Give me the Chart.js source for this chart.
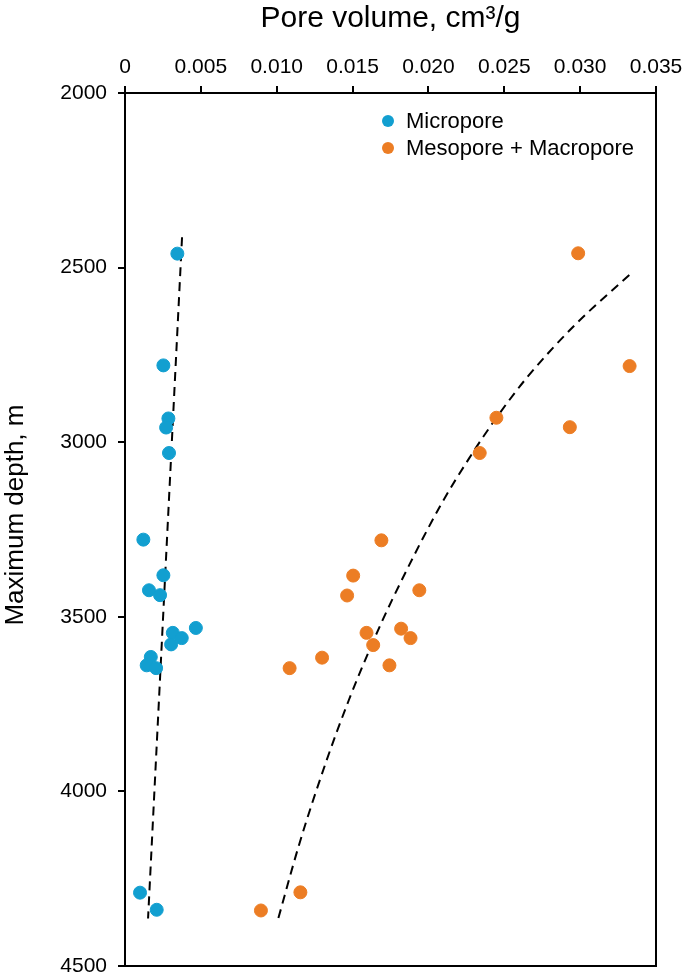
<!DOCTYPE html>
<html>
<head>
<meta charset="utf-8">
<script src="https://cdn.jsdelivr.net/npm/chart.js@4.4.1/dist/chart.umd.min.js"></script>
<style>
  html, body { margin: 0; padding: 0; background: #fff; }
  #wrap { width: 685px; height: 980px; }
</style>
</head>
<body>
<div id="wrap"><canvas id="myChart" width="685" height="980"></canvas></div>
<script>
// pore volume (cm3/g) vs maximum depth (m)
const microVolume = [0.00345, 0.00253, 0.00286, 0.00271, 0.0029, 0.00121, 0.00253, 0.00158, 0.00231,
  0.00467, 0.00315, 0.00374, 0.00304, 0.0017, 0.00143, 0.00205, 0.00099, 0.00209];
const microDepth = [2460, 2780, 2932, 2958, 3031, 3279, 3381, 3424, 3438,
  3532, 3546, 3561, 3579, 3615, 3639, 3647, 4290, 4339];

const mesoVolume = [0.02987, 0.03326, 0.02448, 0.02932, 0.02338, 0.0169, 0.01504, 0.0194, 0.01464,
  0.0182, 0.01592, 0.01882, 0.01636, 0.01299, 0.01743, 0.01085, 0.01156, 0.00896];
const mesoDepth = [2459, 2782, 2930, 2957, 3031, 3281, 3382, 3424, 3439,
  3534, 3546, 3561, 3581, 3617, 3639, 3647, 4289, 4341];

// trend lines
const microTrendVolume = [0.00376, 0.00152];
const microTrendDepth = [2413, 4364];
const mesoTrendVolume = [0.03324, 0.02964, 0.02653, 0.02448, 0.02267, 0.02081, 0.01759, 0.01629, 0.01475, 0.01329, 0.0115, 0.01005];
const mesoTrendDepth = [2521, 2665, 2813, 2930, 3047, 3180, 3453, 3577, 3739, 3911, 4149, 4372];

const xTicks = [0, 0.005, 0.010, 0.015, 0.020, 0.025, 0.030, 0.035];
const xTickLabels = ['0', '0.005', '0.010', '0.015', '0.020', '0.025', '0.030', '0.035'];

const blue = '#129fd0';
const orange = '#ec7d24';
const fontFamily = '"Liberation Sans", Arial, sans-serif';

function pairUp(xs, ys) {
  return xs.map((x, i) => ({ x: x, y: ys[i] }));
}

// frame round the plot
const framePlugin = {
  id: 'frame',
  afterDraw(chart) {
    const { ctx, chartArea } = chart;
    ctx.save();
    ctx.strokeStyle = '#000';
    ctx.lineWidth = 2;
    ctx.beginPath();
    ctx.moveTo(chartArea.left, chartArea.bottom);
    ctx.lineTo(chartArea.right, chartArea.bottom);
    ctx.lineTo(chartArea.right, chartArea.top);
    ctx.stroke();
    ctx.restore();
  }
};

// legend drawn inside the plot
const insideLegend = {
  id: 'insideLegend',
  afterDraw(chart) {
    const { ctx, chartArea } = chart;
    const items = chart.data.datasets.filter((d) => !d.isTrend);
    ctx.save();
    ctx.font = '22px ' + fontFamily;
    ctx.textBaseline = 'middle';
    items.forEach((d, i) => {
      const cx = chartArea.left + 263;
      const cy = chartArea.top + 28 + i * 27;
      ctx.fillStyle = d.backgroundColor;
      ctx.beginPath();
      ctx.arc(cx, cy, 6, 0, Math.PI * 2);
      ctx.fill();
      ctx.fillStyle = '#000';
      ctx.fillText(d.label, cx + 18, cy + 1);
    });
    ctx.restore();
  }
};

function initChart(target) {
  const data = {
    datasets: [
      {
        label: 'Micropore',
        data: pairUp(microVolume, microDepth),
        backgroundColor: blue,
        borderColor: blue,
        pointRadius: 6.5,
        pointHoverRadius: 6.5
      },
      {
        label: 'Mesopore + Macropore',
        data: pairUp(mesoVolume, mesoDepth),
        backgroundColor: orange,
        borderColor: orange,
        pointRadius: 6.5,
        pointHoverRadius: 6.5
      },
      {
        label: 'micro trend',
        isTrend: true,
        data: pairUp(microTrendVolume, microTrendDepth),
        showLine: true,
        borderColor: '#000',
        borderWidth: 2,
        borderDash: [9, 6],
        pointRadius: 0,
        tension: 0
      },
      {
        label: 'meso trend',
        isTrend: true,
        data: pairUp(mesoTrendVolume, mesoTrendDepth),
        showLine: true,
        borderColor: '#000',
        borderWidth: 2,
        borderDash: [9, 6],
        pointRadius: 0,
        cubicInterpolationMode: 'monotone'
      }
    ]
  };

  const config = {
    type: 'scatter',
    data: data,
    options: {
      responsive: false,
      animation: false,
      layout: { padding: { left: 0, top: 0, right: 29, bottom: 14 } },
      plugins: {
        legend: { display: false },
        tooltip: { enabled: false }
      },
      scales: {
        x: {
          type: 'linear',
          position: 'top',
          min: 0,
          max: 0.035,
          afterBuildTicks: (scale) => { scale.ticks = xTicks.map((v) => ({ value: v })); },
          afterFit: (scale) => {
            scale.height = 93;
            scale.paddingLeft = 0;
            scale.paddingRight = 0;
          },
          border: { display: true, color: '#000', width: 2 },
          grid: { drawOnChartArea: false, color: '#000', lineWidth: 2, tickLength: 7 },
          ticks: {
            color: '#000',
            font: { size: 21, family: fontFamily },
            padding: 6,
            maxRotation: 0,
            callback: (value) => xTickLabels[xTicks.indexOf(value)] ?? ''
          },
          title: {
            display: true,
            text: 'Pore volume, cm³/g',
            color: '#000',
            font: { size: 30, family: fontFamily },
            padding: { top: 1, bottom: 0 }
          }
        },
        y: {
          type: 'linear',
          reverse: true,
          min: 2000,
          max: 4500,
          afterFit: (scale) => {
            scale.width = 125;
            scale.paddingTop = 0;
            scale.paddingBottom = 0;
          },
          border: { display: true, color: '#000', width: 2 },
          grid: { drawOnChartArea: false, color: '#000', lineWidth: 2, tickLength: 7 },
          ticks: {
            stepSize: 500,
            color: '#000',
            font: { size: 21, family: fontFamily },
            padding: 11,
            callback: (value) => String(value)
          },
          title: {
            display: true,
            text: '    Maximum depth, m',
            color: '#000',
            font: { size: 26, family: fontFamily },
            padding: { top: 0, bottom: 0 }
          }
        }
      }
    },
    plugins: [framePlugin, insideLegend]
  };
  return new Chart(target, config);
}

document.addEventListener('DOMContentLoaded', () => {
  initChart(document.querySelector('#myChart'));
});
</script>
</body>
</html>
